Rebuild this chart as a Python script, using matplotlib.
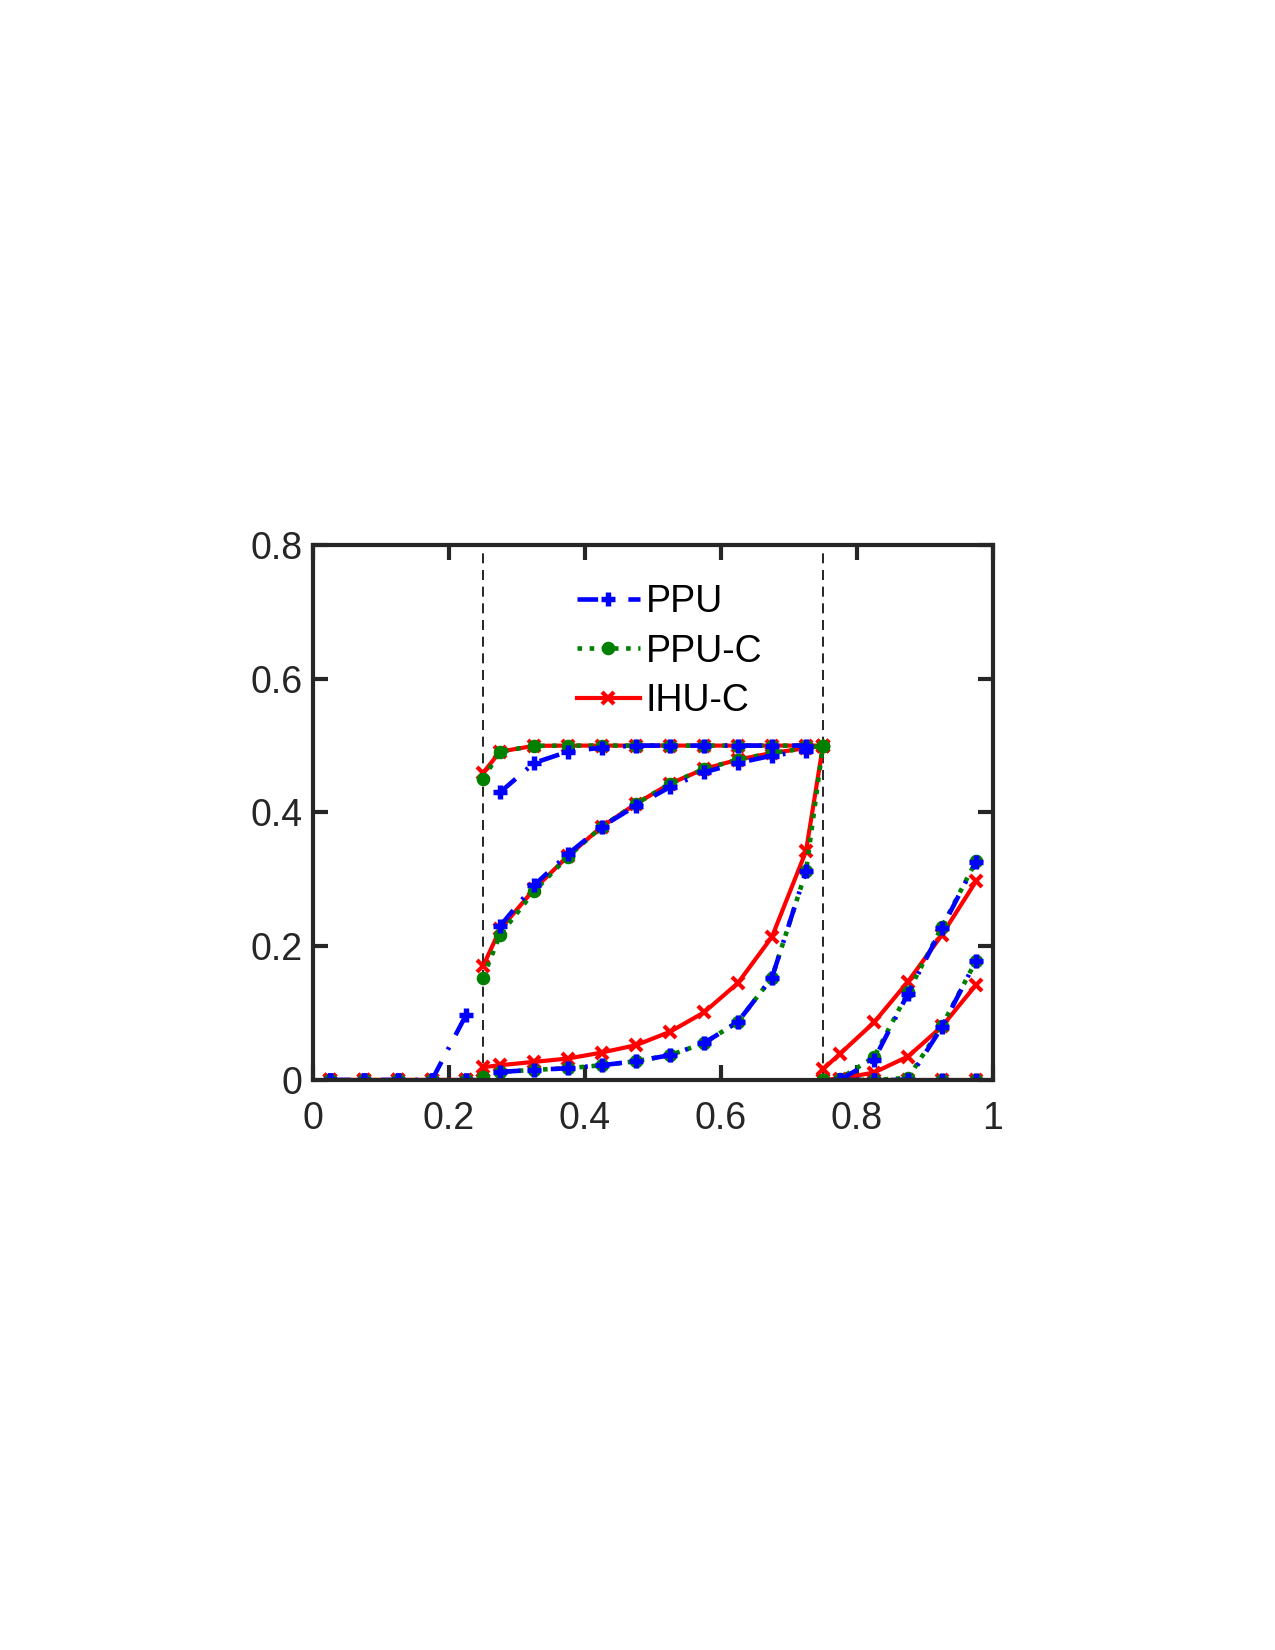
import numpy as np
import matplotlib
matplotlib.use("Agg")
import matplotlib.pyplot as plt

# ---------------- data ----------------
x_left = [0.025, 0.075, 0.125, 0.175, 0.225]
x_mid = [0.275, 0.325, 0.375, 0.425, 0.475, 0.525, 0.575, 0.625, 0.675, 0.725]
x_right = [0.775, 0.825, 0.875, 0.925, 0.975]
x_left_c = x_left + [0.25]
x_mid_c = [0.25] + x_mid + [0.75]
x_right_c = [0.75] + x_right
interfaces = [0.25, 0.75]

labels = ["PPU", "PPU-C", "IHU-C"]

# PPU (cell values only)
ppu_left = [[0, 0, 0, 0, 0.097],
            [0, 0, 0, 0, 0],
            [0, 0, 0, 0, 0]]
ppu_mid = [[0.430, 0.474, 0.491, 0.497, 0.500, 0.500, 0.500, 0.500, 0.500, 0.500],
           [0.230, 0.291, 0.338, 0.379, 0.410, 0.438, 0.460, 0.474, 0.485, 0.492],
           [0.012, 0.015, 0.0175, 0.022, 0.028, 0.037, 0.055, 0.087, 0.153, 0.312]]
ppu_right = [[0, 0.030, 0.129, 0.227, 0.326],
             [0, 0, 0, 0.079, 0.178],
             [0, 0, 0, 0, 0]]

# PPU-C (with interface values)
ppuc_left = [[0, 0, 0, 0, 0, 0],
             [0, 0, 0, 0, 0, 0],
             [0, 0, 0, 0, 0, 0]]
ppuc_mid = [[0.450, 0.491, 0.4996, 0.500, 0.500, 0.500, 0.500, 0.500, 0.500, 0.500, 0.500, 0.500],
            [0.153, 0.217, 0.282, 0.334, 0.379, 0.413, 0.443, 0.465, 0.479, 0.489, 0.496, 0.500],
            [0.005, 0.012, 0.015, 0.0175, 0.022, 0.028, 0.037, 0.055, 0.087, 0.153, 0.312, 0.500]]
ppuc_right = [[0, 0.002, 0.034, 0.131, 0.229, 0.327],
              [0, 0, 0, 0.003, 0.081, 0.178],
              [0, 0, 0, 0, 0, 0]]

# IHU-C (with interface values)
ihuc_left = [[0, 0, 0, 0, 0, 0],
             [0, 0, 0, 0, 0, 0],
             [0, 0, 0, 0, 0, 0]]
ihuc_mid = [[0.459, 0.491, 0.4996, 0.500, 0.500, 0.500, 0.500, 0.500, 0.500, 0.500, 0.500, 0.500],
            [0.170, 0.225, 0.285, 0.335, 0.379, 0.413, 0.443, 0.465, 0.479, 0.489, 0.496, 0.500],
            [0.019, 0.022, 0.027, 0.032, 0.041, 0.052, 0.072, 0.101, 0.145, 0.214, 0.342, 0.500]]
ihuc_right = [[0.016, 0.039, 0.086, 0.147, 0.217, 0.297],
              [0, 0.002, 0.011, 0.035, 0.080, 0.142],
              [0, 0, 0, 0, 0, 0]]

x_ticks = [0, 0.2, 0.4, 0.6, 0.8, 1]
x_ticklabels = ["0", "0.2", "0.4", "0.6", "0.8", "1"]
y_ticks = [0, 0.2, 0.4, 0.6, 0.8]
y_ticklabels = ["0", "0.2", "0.4", "0.6", "0.8"]

# ---------------- style ----------------
plt.rcParams['font.family'] = ['Liberation Sans', 'DejaVu Sans']
axcol = '#262626'
fs = 18

fig = plt.figure(figsize=(8.5, 11), dpi=150)
ax = fig.add_axes([0.2455, 0.3455, 0.5333, 0.3242])

red_kw = dict(color='red', linestyle='-', lw=2.0, marker='x', ms=5.5, mew=2.0, zorder=3)
green_kw = dict(color='#008000', linestyle=':', lw=2.2, marker='o', ms=5.5, mew=1.0,
                markerfacecolor='#008000', zorder=4)
blue_kw = dict(color='blue', linestyle=(0, (4.5, 3.0, 0.6, 3.0)), lw=2.2, marker='+', ms=7,
               mew=2.6, zorder=5)

handles = {}
for k in range(3):
    for xs, ys in ((x_left_c, ihuc_left[k]), (x_mid_c, ihuc_mid[k]), (x_right_c, ihuc_right[k])):
        h, = ax.plot(xs, ys, **red_kw)
        handles.setdefault("IHU-C", h)
    for xs, ys in ((x_left_c, ppuc_left[k]), (x_mid_c, ppuc_mid[k]), (x_right_c, ppuc_right[k])):
        h, = ax.plot(xs, ys, **green_kw)
        handles.setdefault("PPU-C", h)
    for xs, ys in ((x_left, ppu_left[k]), (x_mid, ppu_mid[k]), (x_right, ppu_right[k])):
        h, = ax.plot(xs, ys, **blue_kw)
        handles.setdefault("PPU", h)

for xv in interfaces:
    ax.axvline(xv, color='black', lw=0.8, linestyle=(0, (6, 4)), zorder=2)

ax.set_xlim(0, 1)
ax.set_ylim(0, 0.8)
ax.set_xticks(x_ticks)
ax.set_xticklabels(x_ticklabels)
ax.set_yticks(y_ticks)
ax.set_yticklabels(y_ticklabels)
ax.tick_params(direction='in', length=7, width=2.0, colors=axcol, labelsize=fs,
               top=True, right=True)
ax.tick_params(axis='x', pad=10)
ax.tick_params(axis='y', pad=5)
for s in ax.spines.values():
    s.set_color(axcol)
    s.set_linewidth(2.0)
    s.set_zorder(10)

leg = ax.legend([handles[l] for l in labels], labels, loc='upper left',
                bbox_to_anchor=(0.366, 0.955), frameon=False, fontsize=fs,
                handlelength=1.68, handletextpad=0.15, labelspacing=0.36,
                numpoints=1, borderaxespad=0)

fig.savefig('out.png', dpi=150)
